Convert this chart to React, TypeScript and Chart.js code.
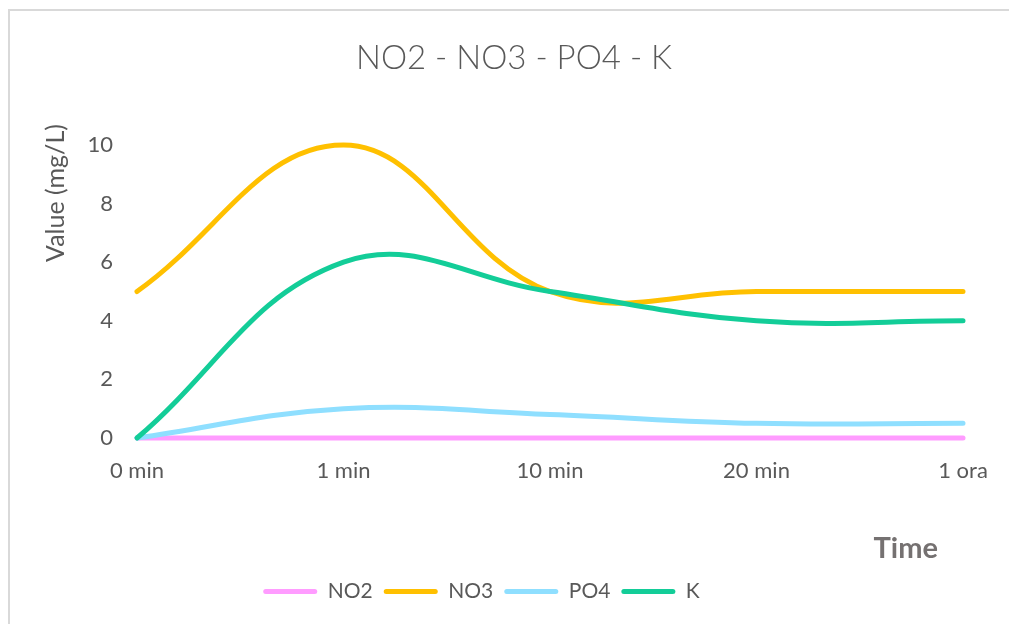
import React, { useEffect, useRef } from "react";
import { Chart, registerables } from "chart.js";

Chart.register(...registerables);

// Sampling times along the x axis
const categories = ["0 min", "1 min", "10 min", "20 min", "1 ora"];

// Measured concentrations (mg/L)
const no2Values = [0, 0, 0, 0, 0];
const no3Values = [5, 10, 5, 5, 5];
const po4Values = [0, 1, 0.8, 0.5, 0.5];
const kValues = [0, 6, 5, 4, 4];

const yTicks = [0, 2, 4, 6, 8, 10];

const FONT = "Lato, 'Open Sans', sans-serif";
const TEXT = "#595959";

// Chart title and axis titles placed freely around the plot area
const textPlugin = {
  id: "freeText",
  afterDraw(chart: any) {
    const { ctx } = chart;
    ctx.save();
    ctx.fillStyle = TEXT;
    ctx.font = `300 33px ${FONT}`;
    ctx.textAlign = "center";
    ctx.textBaseline = "middle";
    ctx.fillText("NO2 - NO3 - PO4 - K", 514, 58);
    ctx.restore();

    ctx.save();
    ctx.fillStyle = TEXT;
    ctx.font = `25px ${FONT}`;
    ctx.textAlign = "center";
    ctx.textBaseline = "middle";
    ctx.translate(56, 193);
    ctx.rotate(-Math.PI / 2);
    ctx.fillText("Value (mg/L)", 0, 0);
    ctx.restore();

    ctx.save();
    ctx.fillStyle = "#757171";
    ctx.font = `bold 29px ${FONT}`;
    ctx.textAlign = "right";
    ctx.textBaseline = "middle";
    ctx.fillText("Time", 938, 549);
    ctx.restore();
  },
};

export default function App() {
  const canvasRef = useRef<HTMLCanvasElement | null>(null);

  useEffect(() => {
    document.body.style.margin = "0";
    document.body.style.overflow = "hidden";
    const canvas = canvasRef.current;
    if (!canvas) return;

    const series = [
      { label: "NO2", data: no2Values, color: "#FF9CFF", order: 3 },
      { label: "NO3", data: no3Values, color: "#FFC000", order: 2 },
      { label: "PO4", data: po4Values, color: "#8FDFFF", order: 1 },
      { label: "K", data: kValues, color: "#13CD98", order: 0 },
    ];

    const chart = new Chart(canvas, {
      type: "line",
      data: {
        labels: categories,
        datasets: series.map((s) => ({
          label: s.label,
          data: s.data,
          borderColor: s.color,
          backgroundColor: s.color,
          borderWidth: 5,
          borderCapStyle: "round",
          borderJoinStyle: "round",
          pointRadius: 0,
          pointHoverRadius: 0,
          tension: 0.4,
          fill: false,
          clip: false,
          order: s.order,
        })),
      },
      options: {
        responsive: false,
        animation: false,
        layout: { padding: { left: 0, right: 46, top: 145, bottom: 12 } },
        plugins: {
          tooltip: { enabled: false },
          title: { display: false },
          legend: {
            position: "bottom",
            labels: {
              color: TEXT,
              font: { family: FONT, size: 21 },
              boxWidth: 54,
              boxHeight: 5,
              padding: 11,
              useBorderRadius: true,
              borderRadius: 2.5,
              sort: (a: any, b: any) => a.datasetIndex - b.datasetIndex,
              generateLabels: (c: any) =>
                Chart.defaults.plugins.legend.labels
                  .generateLabels(c)
                  .map((item: any) => ({
                    ...item,
                    fillStyle: item.strokeStyle,
                    lineWidth: 0,
                  })),
            },
          },
        },
        scales: {
          x: {
            type: "category",
            offset: false,
            grid: { display: false, drawTicks: false },
            border: { display: false },
            ticks: {
              color: TEXT,
              font: { family: FONT, size: 22 },
              padding: 20,
              maxRotation: 0,
              autoSkip: false,
            },
            afterFit: (scale: any) => {
              scale.height = 132;
            },
          },
          y: {
            min: 0,
            max: 10,
            grid: { display: false, drawTicks: false },
            border: { display: false },
            afterBuildTicks: (scale: any) => {
              scale.ticks = yTicks.map((v) => ({ value: v }));
            },
            ticks: {
              color: TEXT,
              font: { family: FONT, size: 22 },
              padding: 24,
            },
            afterFit: (scale: any) => {
              scale.width = 137;
            },
          },
        },
      },
      plugins: [textPlugin],
    });

    return () => chart.destroy();
  }, []);

  return (
    <div>
      <div
        style={{
          position: "absolute",
          left: 8,
          top: 9,
          width: 1001,
          height: 615,
          boxSizing: "border-box",
          borderTop: "2px solid #d9d9d9",
          borderLeft: "2px solid #d9d9d9",
        }}
      />
      <canvas
        ref={canvasRef}
        width={1009}
        height={624}
        style={{ position: "absolute", left: 0, top: 0, width: 1009, height: 624 }}
      />
    </div>
  );
}
